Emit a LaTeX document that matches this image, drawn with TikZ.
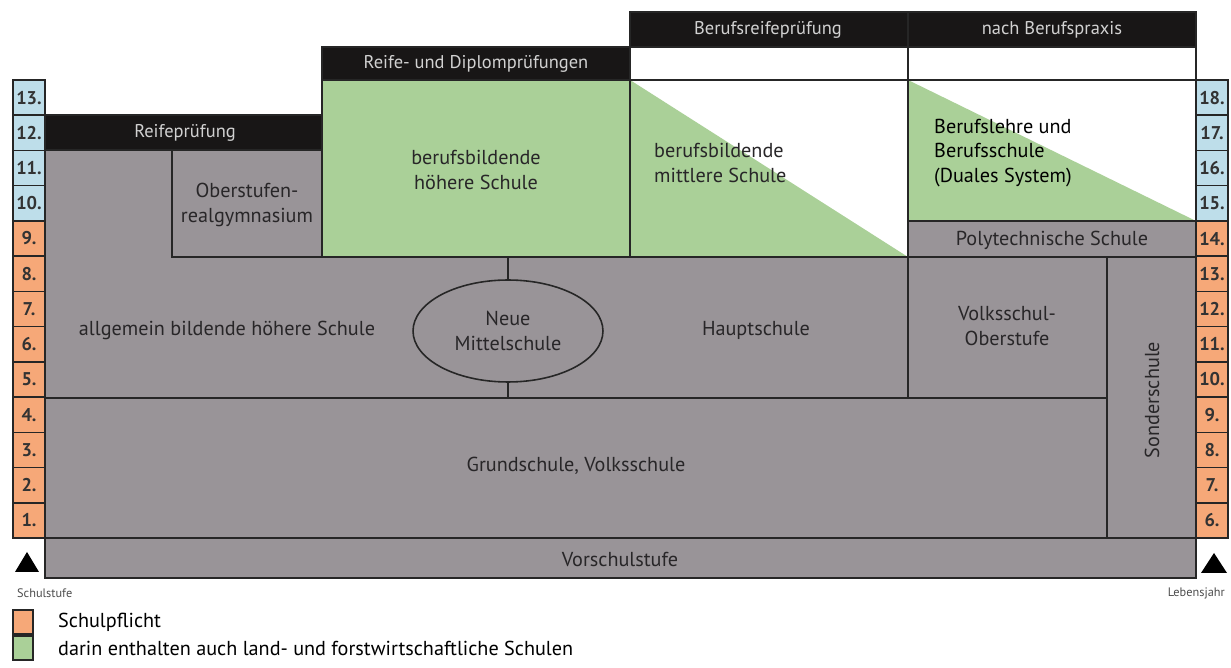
\documentclass[tikz,border=0pt]{standalone}
\usepackage{fontspec}
\setmainfont{PT Sans}
\usetikzlibrary{shapes}
\usetikzlibrary{positioning}

\definecolor{schulgrau}{RGB}{153,148,152}
\definecolor{schulgruen}{RGB}{170,208,152}
\definecolor{pflicht}{RGB}{246,168,120}
\definecolor{oberblau}{RGB}{190,222,234}
\definecolor{balken}{RGB}{24,22,22}
\definecolor{schrift}{RGB}{40,38,40}

\tikzset{
  rand/.style={draw=black!85, line width=0.9pt},
  grau/.style={rand, fill=schulgrau},
  balkentext/.style={text=black!18, font=\fontsize{10.5}{12}\selectfont},
  feldtext/.style={text=schrift, font=\fontsize{11.5}{14}\selectfont, align=center},
  ziffer/.style={font=\bfseries\fontsize{10.5}{12}\selectfont, text=black!80},
  klein/.style={font=\fontsize{7}{8}\selectfont, text=black!70},
}

\begin{document}
\begin{tikzpicture}[x=0.02cm, y=-0.02cm]
\useasboundingbox (0,0) rectangle (1231,668);

%Schulstufen links, Lebensjahre rechts
\foreach \i in {1,2,...,13} {
  \ifnum\i>9 \def\farbe{oberblau}\else\def\farbe{pflicht}\fi
  \draw[rand, fill=\farbe] (13, {538-\i*35.23}) rectangle (45, {538-(\i-1)*35.23});
  \node[ziffer] (l\i) at (29, {538-(\i-0.5)*35.23}) {\i.};
}
\foreach \i in {1,2,...,13} {
  \pgfmathtruncatemacro\jahr{\i+5}
  \ifnum\jahr>14 \def\farbe{oberblau}\else\def\farbe{pflicht}\fi
  \draw[rand, fill=\farbe] (1196, {538-\i*35.23}) rectangle (1228, {538-(\i-1)*35.23});
  \node[ziffer] (r\i) at (1212, {538-(\i-0.5)*35.23}) {\jahr.};
}

%graue Schulen
\draw[grau] (45, 150) rectangle (508, 398);
\draw[grau] (172, 150) rectangle (322, 257);
\draw[grau] (508, 257) rectangle (908, 398);
\draw[grau] (908, 257) rectangle (1107, 398);
\draw[grau] (908, 221) rectangle (1196, 257);
\draw[grau] (1107, 257) rectangle (1196, 538);
\draw[grau] (45, 398) rectangle (1107, 538);
\draw[grau] (45, 538) rectangle (1196, 578);

%Oberstufe berufsbildend
\draw[rand, fill=schulgruen] (322, 80) rectangle (630, 257);
\fill[white] (630, 80) rectangle (908, 257);
\fill[schulgruen] (630, 80) -- (908, 257) -- (630, 257) -- cycle;
\draw[rand] (630, 80) rectangle (908, 257);
\fill[white] (908, 80) rectangle (1196, 221);
\fill[schulgruen] (908, 80) -- (1196, 221) -- (908, 221) -- cycle;
\draw[rand] (908, 80) rectangle (1196, 221);

%Abschluesse
\draw[rand, fill=balken] (45, 115) rectangle (322, 150);
\draw[rand, fill=balken] (322, 47) rectangle (630, 80);
\draw[rand, fill=white] (630, 47) rectangle (908, 80);
\draw[rand, fill=white] (908, 47) rectangle (1196, 80);
\draw[rand, fill=balken] (630, 12) rectangle (908, 47);
\draw[rand, fill=balken] (908, 12) rectangle (1196, 47);

\node[balkentext] (reife) at (185, 133) {Reifeprüfung};
\node[balkentext] (diplom) at (476, 64) {Reife- und Diplomprüfungen};
\node[balkentext] (brp) at (768, 30) {Berufsreifeprüfung};
\node[balkentext] (praxis) at (1052, 30) {nach Berufspraxis};

%Schulen
\node[feldtext] (org) at (247, 205) {Oberstufen-\\realgymnasium};
\node[feldtext] (bhs) at (476, 170) {berufsbildende\\höhere Schule};
\node[feldtext, anchor=west, align=left] (bms) at (648, 163) {berufsbildende\\mittlere Schule};
\node[feldtext, anchor=west, align=left, text=black] (lehre) at (928, 153) {Berufslehre und\\Berufsschule\\(Duales System)};
\node[feldtext] (poly) at (1052, 240) {Polytechnische Schule};
\node[feldtext] (ahs) at (227, 330) {allgemein bildende höhere Schule};
\node[draw=black!85, fill=schulgrau, line width=0.9pt, ellipse, minimum width=3.8cm,
  minimum height=2.04cm, feldtext] (nms) at (508, 331) {Neue\\Mittelschule};
\node[feldtext] (hs) at (756, 330) {Hauptschule};
\node[feldtext] (vso) at (1007, 326) {Volksschul-\\Oberstufe};
\node[feldtext, rotate=90] (sonder) at (1152, 400) {Sonderschule};
\node[feldtext] (vs) at (576, 466) {Grundschule, Volksschule};
\node[feldtext] (vorschule) at (620, 559) {Vorschulstufe};

%Achsen
\fill[black] (15, 572) -- (27, 552) -- (39, 572) -- cycle;
\fill[black] (1201, 573) -- (1214, 553) -- (1227, 573) -- cycle;
\node[klein, anchor=west] (stufe) at (11, 593) {Schulstufe};
\node[klein, anchor=east] (jahr) at (1231, 593) {Lebensjahr};

%Legende
\draw[rand, fill=pflicht] (13, 610) rectangle (33, 634);
\draw[rand, fill=schulgruen] (13, 636) rectangle (33, 660);
\node[feldtext, text=black, anchor=west] (pflichtlegende) at (52, 622) {Schulpflicht};
\node[feldtext, text=black, anchor=west] (gruenlegende) at (52, 648) {darin enthalten auch land- und forstwirtschaftliche Schulen};
\end{tikzpicture}
\end{document}
